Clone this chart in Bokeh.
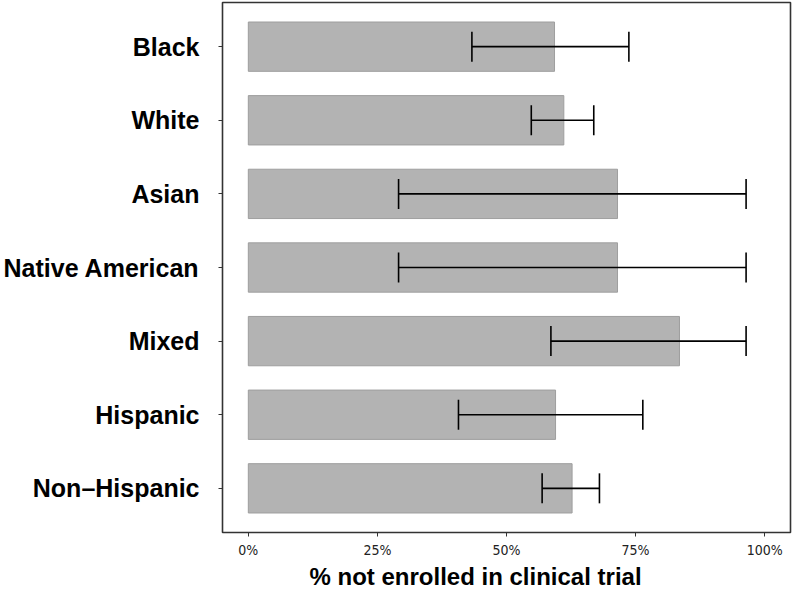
from bokeh.plotting import figure
from bokeh.models import (ColumnDataSource, Range1d, FixedTicker, Whisker, TeeHead, Title)
from bokeh.embed import file_html
from bokeh.resources import INLINE

# ---- data ----
categories = ["Black", "White", "Asian", "Native American", "Mixed", "Hispanic", "Non\u2013Hispanic"]
pct_not_enrolled = [59.3, 61.1, 71.5, 71.5, 83.5, 59.5, 62.7]
ci_lower = [43.3, 54.8, 29.1, 29.1, 58.6, 40.7, 56.9]
ci_upper = [73.7, 66.9, 96.4, 96.4, 96.4, 76.4, 68.0]
x_ticks = [0, 25, 50, 75, 100]
x_tick_labels = ["0%", "25%", "50%", "75%", "100%"]
x_title = "% not enrolled in clinical trial"

n = len(categories)
ypos = [n - i for i in range(n)]  # first category at top

src = ColumnDataSource(dict(y=ypos, cat=categories, v=pct_not_enrolled,
                            lo=ci_lower, hi=ci_upper))

p = figure(width=792, height=589, output_backend="svg", toolbar_location=None,
           x_range=Range1d(-5, 105), y_range=Range1d(0.4, n + 0.6),
           min_border_left=221, min_border_right=2, min_border_top=2,
           min_border_bottom=0)

p.hbar(y="y", left=0, right="v", height=0.67, source=src,
       fill_color="#b3b3b3", line_color="#9e9e9e", line_width=1)

wh = Whisker(source=src, base="y", lower="lo", upper="hi", dimension="width",
             line_color="black", line_width=1.6, level="overlay",
             lower_head=TeeHead(size=30, line_color="black", line_width=1.6),
             upper_head=TeeHead(size=30, line_color="black", line_width=1.6))
p.add_layout(wh)

p.xgrid.visible = False
p.ygrid.visible = False
p.background_fill_color = "white"
p.border_fill_color = "white"
p.outline_line_color = "#333333"
p.outline_line_width = 1.6

# x axis
xa = p.xaxis[0]
xa.ticker = FixedTicker(ticks=x_ticks)
xa.major_label_overrides = {t: l for t, l in zip(x_ticks, x_tick_labels)}
xa.axis_line_color = None
xa.major_tick_out = 4
xa.major_tick_in = 0
xa.major_tick_line_color = "#333333"
xa.minor_tick_line_color = None
xa.major_label_standoff = 5
xa.major_label_text_font = "Liberation Sans Narrow, DejaVu Sans Condensed, Liberation Sans"
xa.major_label_text_font_size = "14px"
xa.major_label_text_color = "#222222"

# y axis
ya = p.yaxis[0]
ya.ticker = FixedTicker(ticks=ypos)
ya.major_label_overrides = {y: c for y, c in zip(ypos, categories)}
ya.axis_line_color = None
ya.major_tick_out = 4
ya.major_tick_in = 0
ya.major_tick_line_color = "#333333"
ya.minor_tick_line_color = None
ya.major_label_standoff = 19
ya.major_label_text_font = "Liberation Sans"
ya.major_label_text_font_style = "bold"
ya.major_label_text_font_size = "25px"
ya.major_label_text_color = "black"

title = Title(text=x_title, align="left", offset=87, standoff=0,
              text_font="Liberation Sans", text_font_style="bold",
              text_font_size="24px", text_color="black")
p.add_layout(title, "below")

open("out.html", "w").write(file_html(p, INLINE))
